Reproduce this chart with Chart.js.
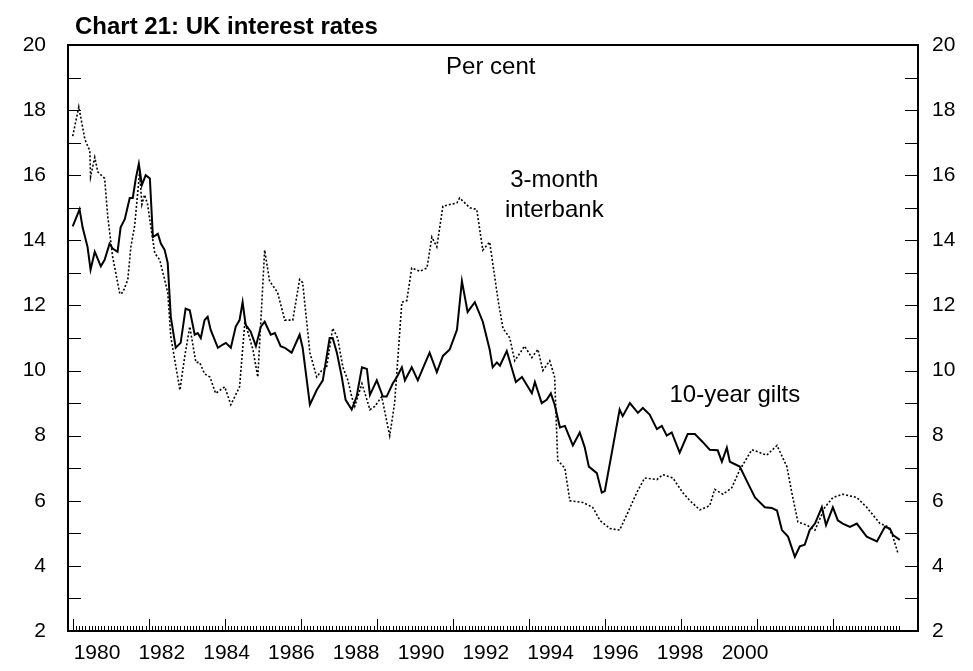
<!DOCTYPE html>
<html lang="en">
<head>
  <meta charset="UTF-8" />
  <title>Chart 21: UK interest rates</title>
  <script src="https://cdn.jsdelivr.net/npm/chart.js"></script>
  <style>
    body { margin: 0; background: #fff; font-family: "Liberation Sans", Arial, sans-serif; }
    #wrap { position: relative; width: 973px; height: 671px; }
    #title { position: absolute; left: 75px; top: 12px; font-weight: bold; font-size: 24px; color: #000; }
  </style>
</head>
<body>
  <div id="wrap">
    <div id="title">Chart 21: UK interest rates</div>
    <canvas id="rates" width="973" height="671"></canvas>
  </div>

  <script>
    // 10-year gilts (solid)
    const giltYears = [1980.00,1980.18,1980.26,1980.39,1980.47,1980.58,1980.74,1980.84,1980.97,1981.05,1981.18,1981.26,1981.37,1981.50,1981.58,1981.66,1981.74,1981.82,1981.92,1982.03,1982.11,1982.24,1982.32,1982.42,1982.50,1982.58,1982.71,1982.84,1982.97,1983.08,1983.21,1983.29,1983.37,1983.47,1983.55,1983.63,1983.82,1983.95,1984.03,1984.16,1984.29,1984.39,1984.47,1984.55,1984.68,1984.82,1984.95,1985.05,1985.21,1985.32,1985.47,1985.58,1985.76,1985.97,1986.05,1986.24,1986.42,1986.58,1986.76,1986.84,1986.95,1987.08,1987.18,1987.34,1987.47,1987.61,1987.74,1987.82,1988.00,1988.16,1988.26,1988.42,1988.53,1988.66,1988.74,1988.92,1989.08,1989.26,1989.39,1989.58,1989.74,1989.92,1990.11,1990.24,1990.39,1990.58,1990.79,1990.97,1991.05,1991.16,1991.24,1991.42,1991.66,1991.82,1992.08,1992.16,1992.34,1992.47,1992.58,1992.68,1992.82,1992.95,1993.16,1993.34,1993.47,1993.58,1993.79,1993.92,1994.00,1994.18,1994.39,1994.47,1994.66,1994.87,1995.00,1995.18,1995.37,1995.50,1995.63,1995.76,1995.97,1996.18,1996.37,1996.58,1996.76,1996.97,1997.08,1997.21,1997.29,1997.55,1997.76,1997.95,1998.21,1998.39,1998.53,1998.66,1998.82,1999.00,1999.13,1999.26,1999.39,1999.53,1999.71,1999.82,2000.00,2000.13,2000.26,2000.45,2000.63,2000.89,2001.16,2001.37,2001.50,2001.58,2001.76];
    const giltRates = [14.43,14.95,14.4,13.8,13.1,13.65,13.2,13.4,13.9,13.75,13.65,14.4,14.65,15.3,15.3,15.9,16.35,15.7,16.0,15.9,14.1,14.2,13.9,13.7,13.3,11.65,10.7,10.85,11.9,11.85,11.1,11.15,11.0,11.55,11.65,11.25,10.7,10.8,10.85,10.7,11.35,11.55,12.1,11.4,11.2,10.75,11.35,11.5,11.1,11.15,10.75,10.7,10.55,11.1,10.7,8.95,9.4,9.7,11.0,11.0,10.55,9.8,9.1,8.8,9.2,10.1,10.05,9.25,9.7,9.2,9.2,9.6,9.8,10.1,9.7,10.1,9.7,10.2,10.55,9.95,10.45,10.65,11.25,12.75,11.8,12.1,11.5,10.65,10.1,10.25,10.15,10.6,9.65,9.8,9.3,9.65,9.0,9.1,9.3,8.95,8.25,8.3,7.7,8.1,7.65,7.05,6.85,6.25,6.3,7.45,8.8,8.6,9.0,8.7,8.85,8.65,8.2,8.3,8.0,8.1,7.48,8.05,8.05,7.8,7.57,7.55,7.2,7.63,7.2,7.05,6.55,6.1,5.8,5.78,5.7,5.1,4.9,4.28,4.6,4.65,5.1,5.3,5.8,5.25,5.8,5.4,5.3,5.2,5.3,4.9,4.75,5.2,5.15,4.95,4.8];

    // 3-month interbank (dotted)
    const ibYears = [1980.00,1980.16,1980.32,1980.45,1980.47,1980.58,1980.66,1980.84,1980.92,1981.05,1981.24,1981.32,1981.45,1981.53,1981.63,1981.76,1981.82,1981.89,1981.97,1982.16,1982.29,1982.50,1982.58,1982.82,1982.95,1983.08,1983.24,1983.34,1983.47,1983.61,1983.76,1984.00,1984.16,1984.39,1984.53,1984.74,1984.87,1985.05,1985.18,1985.39,1985.58,1985.79,1985.97,1986.05,1986.24,1986.42,1986.55,1986.68,1986.84,1986.97,1987.11,1987.24,1987.34,1987.42,1987.61,1987.82,1987.95,1988.13,1988.34,1988.47,1988.66,1988.79,1988.92,1989.13,1989.32,1989.45,1989.58,1989.74,1990.11,1990.18,1990.45,1990.63,1990.79,1990.97,1991.20,1991.32,1991.50,1991.63,1991.89,1992.08,1992.24,1992.37,1992.55,1992.68,1992.76,1992.95,1993.08,1993.42,1993.68,1993.87,1994.13,1994.39,1994.61,1994.84,1995.05,1995.37,1995.53,1995.79,1996.05,1996.24,1996.50,1996.76,1996.89,1997.11,1997.34,1997.55,1997.87,1998.26,1998.53,1998.79,1998.92,1999.08,1999.32,1999.53,1999.79,2000.00,2000.26,2000.63,2000.89,2001.24,2001.45,2001.58,2001.71];
    const ibRates = [17.2,18.1,17.1,16.75,15.95,16.55,16.1,15.9,14.75,13.5,12.35,12.4,12.8,13.8,14.45,16.1,15.1,15.4,15.1,13.6,13.4,12.4,11.05,9.4,10.45,11.35,10.25,10.25,9.9,9.8,9.3,9.5,8.95,9.5,11.5,10.65,9.8,13.7,12.75,12.4,11.55,11.55,12.8,12.7,10.55,9.8,10.0,10.1,11.3,11.0,10.1,9.7,9.2,8.9,9.6,8.8,8.9,9.2,8.0,9.0,12.1,12.15,13.15,13.05,13.15,14.1,13.8,15.05,15.15,15.3,15.0,14.95,13.7,13.95,12.1,11.3,11.0,10.3,10.75,10.4,10.65,10.0,10.3,9.8,7.25,7.0,6.0,5.95,5.8,5.4,5.15,5.1,5.65,6.25,6.7,6.65,6.8,6.7,6.25,6.0,5.72,5.85,6.35,6.2,6.4,6.95,7.57,7.4,7.7,7.05,6.25,5.35,5.25,5.1,5.8,6.1,6.2,6.1,5.8,5.3,5.2,4.9,4.4];

    const yearLabels = [1980,1982,1984,1986,1988,1990,1992,1994,1996,1998,2000];
    const rateTicks = [2,4,6,8,10,12,14,16,18,20];

    const toXY = (xs, ys) => xs.map((x, i) => ({ x: x, y: ys[i] }));
    const FONT = '"Liberation Sans", Arial, sans-serif';

    // inward tick marks, top frame line and text notes placed through the scales
    const marks = {
      id: 'marks',
      afterDraw(chart) {
        const c = chart.ctx, x = chart.scales.x, y = chart.scales.y;
        const a = chart.chartArea;
        c.save();
        c.strokeStyle = '#000';
        c.lineWidth = 2;
        c.beginPath();
        c.moveTo(a.left - 1, a.top); c.lineTo(a.right + 1, a.top);
        c.stroke();
        c.lineWidth = 1;
        c.beginPath();
        for (let m = 0; m <= 21 * 12 + 9; m++) {
          const px = Math.round(x.getPixelForValue(1980 + m / 12)) + 0.5;
          const len = (m % 24 === 0) ? 12 : 5;
          c.moveTo(px, a.bottom);
          c.lineTo(px, a.bottom - len);
        }
        for (let v = 3; v <= 19; v++) {
          const py = Math.round(y.getPixelForValue(v)) + 0.5;
          c.moveTo(a.left, py); c.lineTo(a.left + 13, py);
          c.moveTo(a.right, py); c.lineTo(a.right - 13, py);
        }
        c.stroke();
        c.fillStyle = '#000';
        c.font = '24px ' + FONT;
        c.textAlign = 'center';
        c.textBaseline = 'middle';
        const notes = [['Per cent', 1991.0, 19.3], ['3-month', 1992.67, 15.85], ['interbank', 1992.67, 14.93], ['10-year gilts', 1997.42, 9.23]];
        notes.forEach(n => c.fillText(n[0], x.getPixelForValue(n[1]), y.getPixelForValue(n[2])));
        c.restore();
      }
    };

    new Chart(document.getElementById('rates'), {
      type: 'line',
      data: {
        datasets: [
          {
            label: '10-year gilts',
            data: toXY(giltYears, giltRates),
            borderColor: '#000',
            borderWidth: 2,
            pointRadius: 0,
            tension: 0
          },
          {
            label: '3-month interbank',
            data: toXY(ibYears, ibRates),
            borderColor: '#000',
            borderWidth: 1.6,
            borderDash: [2, 2],
            pointRadius: 0,
            tension: 0
          }
        ]
      },
      options: {
        responsive: false,
        animation: false,
        layout: { padding: { top: 45, left: 0, right: 0, bottom: 0 } },
        plugins: { legend: { display: false }, tooltip: { enabled: false } },
        scales: {
          x: {
            type: 'linear', position: 'bottom',
            min: 1979.876, max: 2002.24,
            ticks: { display: false },
            grid: { display: false },
            border: { display: true, color: '#000', width: 2 },
            afterFit: s => { s.height = 0; }
          },
          xl: {
            type: 'linear', position: 'bottom',
            min: 1979.105, max: 2005.34,
            afterBuildTicks: s => { s.ticks = yearLabels.map(v => ({ value: v })); },
            ticks: { color: '#000', font: { size: 21, family: FONT }, padding: 10, maxRotation: 0, autoSkip: false, callback: v => String(v) },
            grid: { display: false, drawTicks: false },
            border: { display: false },
            afterFit: s => { s.height = 40; }
          },
          y: {
            position: 'left', min: 2, max: 20,
            afterBuildTicks: s => { s.ticks = rateTicks.map(v => ({ value: v })); },
            ticks: { color: '#000', font: { size: 21, family: FONT }, padding: 22 },
            grid: { display: false, drawTicks: false },
            border: { display: true, color: '#000', width: 2 },
            afterFit: s => { s.width = 68; }
          },
          y2: {
            position: 'right', min: 2, max: 20,
            afterBuildTicks: s => { s.ticks = rateTicks.map(v => ({ value: v })); },
            ticks: { color: '#000', font: { size: 21, family: FONT }, padding: 14 },
            grid: { display: false, drawTicks: false },
            border: { display: true, color: '#000', width: 2 },
            afterFit: s => { s.width = 55; }
          }
        }
      },
      plugins: [marks]
    });
  </script>
</body>
</html>
